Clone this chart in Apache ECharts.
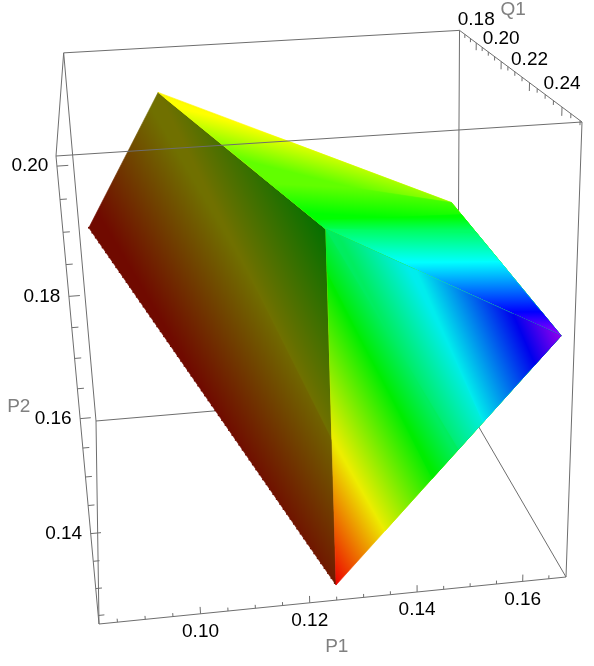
<!DOCTYPE html>
<html>
<head>
<meta charset="utf-8" />
<script src="https://cdn.jsdelivr.net/npm/echarts@6/dist/echarts.min.js"></script>
<style>
  html, body { margin: 0; padding: 0; background: #fff; }
  #main { width: 594px; height: 666px; }
</style>
</head>
<body>
<div id="main"></div>
<script>
// box ranges
const p1Range = [0.0817, 0.1683];
const p2Range = [0.1234, 0.2015];
const q1Range = [0.1651, 0.2510];

const p1Ticks = [0.085, 0.09, 0.095, 0.1, 0.105, 0.11, 0.115, 0.12, 0.125, 0.13, 0.135, 0.14, 0.145, 0.15, 0.155, 0.16, 0.165];
const p2Ticks = [0.125, 0.13, 0.135, 0.14, 0.145, 0.15, 0.155, 0.16, 0.165, 0.17, 0.175, 0.18, 0.185, 0.19, 0.195, 0.2];
const q1Ticks = [0.17, 0.175, 0.18, 0.185, 0.19, 0.195, 0.2, 0.205, 0.21, 0.215, 0.22, 0.225, 0.23, 0.235, 0.24, 0.245, 0.25];
const p1Labels = [0.1, 0.12, 0.14, 0.16];
const p2Labels = [0.14, 0.16, 0.18, 0.2];
const q1Labels = [0.18, 0.2, 0.22, 0.24];

// polytope corners          A       B       C       D       E       F
const cornerP1 = [0.1001, 0.0839, 0.1252, 0.1251, 0.1656, 0.1666];
const cornerP2 = [0.2000, 0.1665, 0.1253, 0.1871, 0.1672, 0.1664];
const cornerQ1 = [0.2017, 0.1668, 0.2493, 0.2493, 0.1695, 0.2488];

// faces: corner order round the outline, then the hue,
// and where that line meets the outline (edge number + fraction along the edge)
const leftFace = [0, 1, 2, 3];
const leftHue = [0.015, 0.1667, 0.33];
const leftStart = [2, 2.41, 3];
const leftEnd = [5, 4, 3];

const topFace = [0, 4, 5, 3];
const topHue = [0.16, 0.1667, 0.27, 0.3333, 0.4, 0.5, 0.6667, 0.77];
const topStart = [0, 0.45, 1, 1.09, 1.23, 1.442, 1.82, 2];
const topEnd = [4, 3.96, 3.407, 3.064, 3, 2.684, 2.22, 2];

const frontFace = [2, 5, 3];
const frontHue = [0, 0.1667, 0.3333, 0.4, 0.5, 0.6667, 0.77];
const frontStart = [0, 0.218, 0.427, 0.545, 0.653, 0.884, 1];
const frontEnd = [3, 2.59, 2.12, 2, 1.62, 1.204, 1];

const LINE_COLOR = "#6e6e6e";
const NAME_COLOR = "#808080";
const LABEL_FONT = '19px "Liberation Sans", Arial, sans-serif';
const LEFT_BRIGHTNESS = 0.44;
const FRONT_BRIGHTNESS = 0.93;

// camera, fitted to the box corners in the picture
function project(p1, p2, q1) {
  const u = (p1 - p1Range[0]) / (p1Range[1] - p1Range[0]);
  const v = (p2 - p2Range[0]) / (p2Range[1] - p2Range[0]);
  const w = (q1Range[1] - q1) / (q1Range[1] - q1Range[0]);
  const d = 1 + 0.03703 * u - 0.1133 * v + 0.303 * w;
  return [
    (99 + 487.96 * u - 49.34 * v + 26.09 * w) / d,
    (624 - 25.63 * u - 485.67 * v - 75.44 * w) / d,
  ];
}

function hueColor(h, bright) {
  const sector = h * 6;
  const i = Math.floor(sector);
  const f = sector - i;
  const rgb = [[1, f, 0], [1 - f, 1, 0], [0, 1, f], [0, 1 - f, 1], [f, 0, 1], [1, 0, 1 - f]][i % 6];
  return "rgb(" + rgb.map((c) => Math.round(c * bright * 255)).join(",") + ")";
}

// ---- line segments of the box and ticks
function corner(i, j, k) {
  return [p1Range[i], p2Range[j], q1Range[k]];
}
function edge(a, b) {
  return a.concat(b);
}
const backEdges = [
  edge(corner(0, 0, 0), corner(1, 0, 0)),
  edge(corner(1, 0, 0), corner(1, 1, 0)),
  edge(corner(1, 0, 0), corner(1, 0, 1)),
];
const frontEdges = [
  edge(corner(0, 0, 1), corner(1, 0, 1)),
  edge(corner(0, 1, 1), corner(1, 1, 1)),
  edge(corner(0, 0, 1), corner(0, 1, 1)),
  edge(corner(1, 0, 1), corner(1, 1, 1)),
  edge(corner(0, 1, 0), corner(1, 1, 0)),
  edge(corner(0, 1, 0), corner(0, 1, 1)),
  edge(corner(1, 1, 0), corner(1, 1, 1)),
  edge(corner(0, 0, 0), corner(0, 1, 0)),
  edge(corner(0, 0, 0), corner(0, 0, 1)),
];
p1Ticks.forEach((t) => {
  const len = p1Labels.includes(t) ? 0.0013 : 0.00065;
  frontEdges.push([t, p2Range[0], q1Range[1], t, p2Range[0] + len, q1Range[1]]);
});
p2Ticks.forEach((t) => {
  const len = p2Labels.includes(t) ? 0.0018 : 0.0011;
  frontEdges.push([p1Range[0], t, q1Range[1], p1Range[0] + len, t, q1Range[1]]);
});
q1Ticks.forEach((t) => {
  const len = q1Labels.includes(t) ? 0.0014 : 0.0007;
  frontEdges.push([p1Range[1], p2Range[1], t, p1Range[1], p2Range[1] - len, t]);
});

// ---- text
const texts = [];
p1Labels.forEach((t) => {
  texts.push({ p: [t, p2Range[0], q1Range[1]], dx: 0, dy: 18, text: t.toFixed(2), color: "#000" });
});
p2Labels.forEach((t) => {
  texts.push({ p: [p1Range[0], t, q1Range[1]], dx: -27, dy: 0, text: t.toFixed(2), color: "#000" });
});
q1Labels.forEach((t) => {
  texts.push({ p: [p1Range[1], p2Range[1], t], dx: 0, dy: -23, text: t.toFixed(2), color: "#000" });
});
const p1Mid = (p1Range[0] + p1Range[1]) / 2;
const p2Mid = (p2Range[0] + p2Range[1]) / 2;
const q1Mid = (q1Range[0] + q1Range[1]) / 2;
texts.push({ p: [p1Mid, p2Range[0], q1Range[1]], dx: 0, dy: 47, text: "P1", color: NAME_COLOR });
texts.push({ p: [p1Range[0], p2Mid, q1Range[1]], dx: -60, dy: 3, text: "P2", color: NAME_COLOR });
texts.push({ p: [p1Range[1], p2Range[1], q1Mid], dx: 1, dy: -60, text: "Q1", color: NAME_COLOR });

// ---- colour bands on the faces
function makeBands(face, hues, starts, ends, bright) {
  const bands = [];
  for (let i = 0; i < hues.length - 1; i++) {
    bands.push({ face, hues, starts, ends, i, bright });
  }
  return bands;
}
const bands = [].concat(
  makeBands(leftFace, leftHue, leftStart, leftEnd, LEFT_BRIGHTNESS),
  makeBands(topFace, topHue, topStart, topEnd, 1),
  makeBands(frontFace, frontHue, frontStart, frontEnd, FRONT_BRIGHTNESS)
);

function faceVertex(face, k) {
  const c = face[k % face.length];
  return project(cornerP1[c], cornerP2[c], cornerQ1[c]);
}
function outlinePoint(face, s) {
  const k = Math.floor(s);
  const f = s - k;
  const a = faceVertex(face, k);
  if (f === 0) return a;
  const b = faceVertex(face, k + 1);
  return [a[0] + (b[0] - a[0]) * f, a[1] + (b[1] - a[1]) * f];
}

function renderBand(params, api) {
  const b = bands[params.dataIndex];
  const i = b.i;
  const s0 = b.starts[i], s1 = b.ends[i], n0 = b.starts[i + 1], n1 = b.ends[i + 1];

  const points = [outlinePoint(b.face, s0)];
  for (let k = Math.floor(s0) + 1; k < s1; k++) {
    points.push(faceVertex(b.face, k));
  }
  points.push(outlinePoint(b.face, s1));

  const a0 = outlinePoint(b.face, s0), a1 = outlinePoint(b.face, s1);
  const c0 = outlinePoint(b.face, n0), c1 = outlinePoint(b.face, n1);
  let dx = 0, dy = 0;
  [[a0, a1], [c0, c1]].forEach((pair) => {
    const x = pair[1][0] - pair[0][0], y = pair[1][1] - pair[0][1];
    const len = Math.hypot(x, y);
    if (len > 0.01) {
      dx += x / len;
      dy += y / len;
    }
  });
  const len = Math.hypot(dx, dy);
  const nx = -dy / len, ny = dx / len;
  const mid0 = [(a0[0] + a1[0]) / 2, (a0[1] + a1[1]) / 2];
  const mid1 = [(c0[0] + c1[0]) / 2, (c0[1] + c1[1]) / 2];
  const reach = (mid1[0] - mid0[0]) * nx + (mid1[1] - mid0[1]) * ny;

  const from = api.coord(mid0);
  const to = api.coord([mid0[0] + nx * reach, mid0[1] + ny * reach]);
  const fill = new echarts.graphic.LinearGradient(
    from[0], from[1], to[0], to[1],
    [
      { offset: 0, color: hueColor(b.hues[i], b.bright) },
      { offset: 1, color: hueColor(b.hues[i + 1], b.bright) },
    ],
    true
  );
  return {
    type: "polygon",
    shape: { points: points.map((p) => api.coord(p)) },
    style: { fill: fill, stroke: fill, lineWidth: 0.6 },
  };
}

function renderSegment(params, api) {
  const a = api.coord(project(api.value(0), api.value(1), api.value(2)));
  const b = api.coord(project(api.value(3), api.value(4), api.value(5)));
  return {
    type: "line",
    shape: { x1: a[0], y1: a[1], x2: b[0], y2: b[1] },
    style: { stroke: LINE_COLOR, lineWidth: 1, fill: null },
  };
}

// the surface is made of dots, so its lower left edge comes out scalloped
function renderScallop(params, api) {
  const a = api.coord(project(api.value(0), api.value(1), api.value(2)));
  const b = api.coord(project(api.value(3), api.value(4), api.value(5)));
  return {
    type: "line",
    shape: { x1: a[0], y1: a[1], x2: b[0], y2: b[1] },
    style: {
      stroke: hueColor(0.015, LEFT_BRIGHTNESS),
      lineWidth: 1.8,
      lineCap: "round",
      lineDash: [0, 6],
      fill: null,
    },
  };
}

function renderText(params, api) {
  const t = texts[params.dataIndex];
  const at = api.coord(project(t.p[0], t.p[1], t.p[2]));
  return {
    type: "text",
    style: {
      text: t.text,
      x: at[0] + t.dx,
      y: at[1] + t.dy,
      fill: t.color,
      font: LABEL_FONT,
      align: "center",
      verticalAlign: "middle",
    },
  };
}

const scallopEdge = [[cornerP1[1], cornerP2[1], cornerQ1[1], cornerP1[2], cornerP2[2], cornerQ1[2]]];

const myChart = echarts.init(document.getElementById("main"));
myChart.setOption({
  animation: false,
  backgroundColor: "#fff",
  grid: { left: 0, right: 0, top: 0, bottom: 0 },
  xAxis: { type: "value", min: 0, max: 594, show: false },
  yAxis: { type: "value", min: 0, max: 666, inverse: true, show: false },
  series: [
    { type: "custom", z: 1, silent: true, clip: false, data: backEdges, renderItem: renderSegment },
    { type: "custom", z: 2, silent: true, clip: false, data: scallopEdge, renderItem: renderScallop },
    { type: "custom", z: 2, silent: true, clip: false, data: bands.map((b, i) => [i]), renderItem: renderBand },
    { type: "custom", z: 3, silent: true, clip: false, data: frontEdges, renderItem: renderSegment },
    { type: "custom", z: 4, silent: true, clip: false, data: texts.map((t, i) => [i]), renderItem: renderText },
  ],
});
</script>
</body>
</html>
